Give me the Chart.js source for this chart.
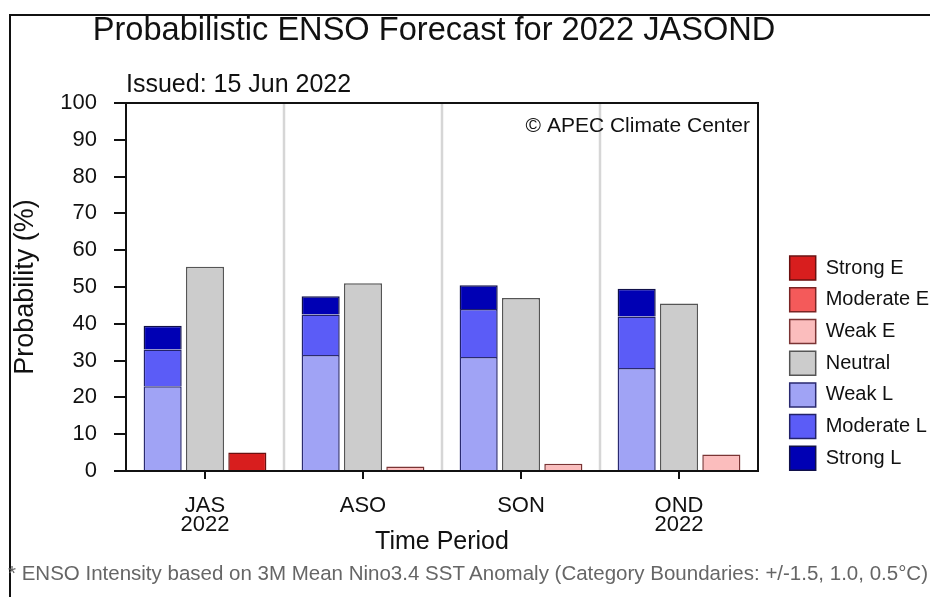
<!DOCTYPE html>
<html>
<head>
<meta charset="utf-8">
<title>Probabilistic ENSO Forecast for 2022 JASOND</title>
<script src="https://cdn.jsdelivr.net/npm/chart.js@4.4.1/dist/chart.umd.min.js"></script>
<style>
  html, body { margin: 0; padding: 0; background: #fff; overflow: hidden; }
  body { position: relative; width: 930px; height: 597px; font-family: "Liberation Sans", Arial, sans-serif; color: #111; }
  #wrap { position: absolute; left: 0; top: 0; width: 930px; height: 597px; }
  #frame { position: absolute; left: 9px; top: 14px; width: 940px; height: 600px; border-top: 2px solid #111; border-left: 2px solid #111; pointer-events: none; }
  #title { position: absolute; left: 0; top: 12px; width: 868px; text-align: center; font-size: 32.6px; line-height: 33px; white-space: nowrap; }
  #issued { position: absolute; left: 126px; top: 71px; font-size: 25px; line-height: 25px; white-space: nowrap; }
  #note { position: absolute; left: 8px; top: 563px; font-size: 20.5px; line-height: 20.5px; color: #666; white-space: nowrap; }
</style>
</head>
<body>
<div id="wrap"><canvas id="ensoChart"></canvas></div>
<div id="frame"></div>
<div id="title">Probabilistic ENSO Forecast for 2022 JASOND</div>
<div id="issued">Issued: 15 Jun 2022</div>
<div id="note">* ENSO Intensity based on 3M Mean Nino3.4 SST Anomaly (Category Boundaries: +/-1.5, 1.0, 0.5°C)</div>
<script>
// forecast periods (x axis) and probabilities (%) per category
const periods = [["JAS", "2022"], "ASO", "SON", ["OND", "2022"]];
const weakL = [23, 31.5, 31, 28];
const moderateL = [10, 11, 13, 14];
const strongL = [6.5, 5, 6.5, 7.5];
const neutral = [55.5, 51, 47, 45.5];
const weakE = [0, 1.2, 2, 4.5];
const moderateE = [0, 0, 0, 0];
const strongE = [5, 0, 0, 0];

const yMin = 0;
const yMax = 100;
const yStep = 10;

// legend goes from El Nino down to La Nina
const legendOrder = [6, 5, 4, 3, 0, 1, 2];

function bars(label, data, stack, bg, border) {
	return {
		label: label,
		data: data,
		stack: stack,
		backgroundColor: bg,
		borderColor: border,
		borderWidth: 1.5,
	};
}

const decor = {
	id: "decor",
	afterLayout(chart) {
		// nudge the legend a little lower / right, like the original
		const lg = chart.legend;
		if (lg) {
			lg.top += 7;
			lg.bottom += 7;
			lg.left += 4;
			lg.right += 4;
		}
	},
	beforeDatasetsDraw(chart) {
		const { ctx, chartArea: a, scales: { x } } = chart;
		ctx.save();
		ctx.strokeStyle = "#d6d6d6";
		ctx.lineWidth = 2.5;
		for (let i = 1; i < periods.length; i++) {
			const px = (x.getPixelForValue(i - 1) + x.getPixelForValue(i)) / 2;
			ctx.beginPath();
			ctx.moveTo(px, a.top);
			ctx.lineTo(px, a.bottom);
			ctx.stroke();
		}
		ctx.restore();
	},
	afterDraw(chart) {
		const { ctx, chartArea: a } = chart;
		ctx.save();
		ctx.strokeStyle = "#111";
		ctx.lineWidth = 2;
		ctx.strokeRect(a.left, a.top, a.right - a.left, a.bottom - a.top);
		ctx.font = '21px "Liberation Sans", Arial, sans-serif';
		ctx.fillStyle = "#111";
		ctx.textAlign = "right";
		ctx.textBaseline = "alphabetic";
		ctx.fillText("\u00A9 APEC Climate Center", a.right - 8, a.top + 29);
		ctx.restore();
	},
};

Chart.defaults.font.family = '"Liberation Sans", Arial, sans-serif';
Chart.defaults.color = "#111";

const ctx = document.getElementById("ensoChart");

new Chart(ctx, {
	type: "bar",
	data: {
		labels: periods,
		datasets: [
			bars("Weak L", weakL, "L", "#a0a3f5", "#2a2a70"),
			bars("Moderate L", moderateL, "L", "#5b5cf7", "#22226a"),
			bars("Strong L", strongL, "L", "#0000b4", "#10104a"),
			bars("Neutral", neutral, "N", "#cccccc", "#555555"),
			bars("Weak E", weakE, "E", "#fbbdbd", "#7a3434"),
			bars("Moderate E", moderateE, "E", "#f45a5a", "#7a2424"),
			bars("Strong E", strongE, "E", "#d81e1e", "#6a1010"),
		],
	},
	options: {
		responsive: true,
		maintainAspectRatio: false,
		animation: false,
		categoryPercentage: 0.804,
		barPercentage: 0.9,
		layout: {
			padding: { top: 103, left: 0, right: 0, bottom: 0 },
		},
		plugins: {
			tooltip: { enabled: false },
			legend: {
				display: true,
				position: "right",
				align: "end",
				fullSize: false,
				maxWidth: 152,
				labels: {
					boxWidth: 26,
					boxHeight: 24,
					padding: 7.7,
					font: { size: 20 },
					color: "#111",
					sort: (a, b) => legendOrder.indexOf(a.datasetIndex) - legendOrder.indexOf(b.datasetIndex),
				},
			},
		},
		scales: {
			x: {
				stacked: true,
				grid: { drawOnChartArea: false, offset: false, tickLength: 8, color: "#111", lineWidth: 2 },
				border: { display: true, color: "#111", width: 2 },
				ticks: { font: { size: 22, lineHeight: 0.88 }, color: "#111", padding: 17, maxRotation: 0 },
				title: {
					display: true,
					text: "Time Period",
					font: { size: 25 },
					color: "#111",
					padding: { top: 0, bottom: 40 },
				},
				afterFit(scale) {
					scale.height = 126;
				},
			},
			y: {
				stacked: true,
				min: yMin,
				max: yMax,
				ticks: { stepSize: yStep, font: { size: 22 }, color: "#111", padding: 17 },
				grid: { drawOnChartArea: false, tickLength: 12, color: "#111", lineWidth: 2 },
				border: { display: true, color: "#111", width: 2 },
				title: {
					display: true,
					text: "Probability (%)",
					font: { size: 27 },
					color: "#111",
					padding: { top: 9, bottom: 0 },
				},
				afterFit(scale) {
					scale.width = 126;
				},
			},
			y2: {
				position: "right",
				grid: { display: false },
				ticks: { display: false },
				border: { display: false },
				afterFit(scale) {
					scale.width = 20;
				},
			},
		},
	},
	plugins: [decor],
});
</script>
</body>
</html>
